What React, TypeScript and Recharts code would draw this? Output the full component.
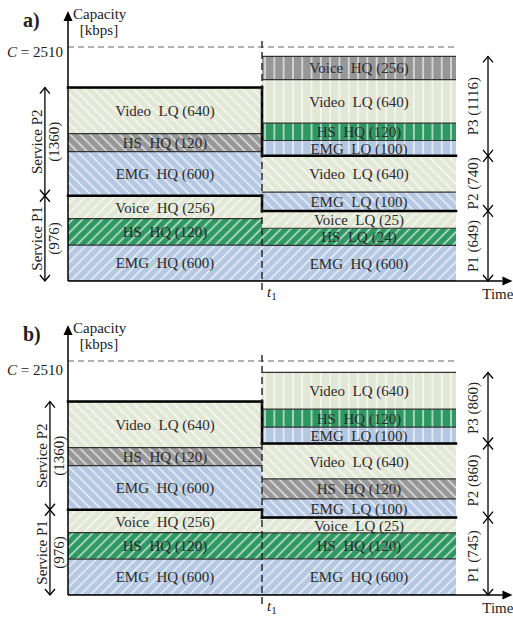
import React from 'react';
import { ComposedChart, Bar, XAxis, YAxis, ReferenceLine, LabelList } from 'recharts';

const SERIF = '"Liberation Serif", "Times New Roman", serif';

// blocks are listed bottom -> top; heights are the drawn heights on the capacity axis
const beforeNames = ['EMG  HQ', 'HS  HQ', 'Voice  HQ', 'EMG  HQ', 'HS  HQ', 'Video  LQ'];
const beforeKbps = [600, 120, 256, 600, 120, 640];
const beforeHeights = [385, 285, 244, 474, 193, 494];
const beforeColors = ['blue', 'green', 'light', 'blue', 'gray', 'light'];
const beforeGroups = [1, 1, 1, 2, 2, 2];

const afterANames = ['EMG  HQ', 'HS  LQ', 'Voice  LQ', 'EMG  LQ', 'Video  LQ', 'EMG  LQ', 'HS  HQ', 'Video  LQ', 'Voice  HQ'];
const afterAKbps = [600, 24, 25, 100, 640, 100, 120, 640, 256];
const afterAHeights = [383, 183, 186, 201, 390, 164, 187, 465, 250];
const afterAColors = ['blue', 'green', 'light', 'blue', 'light', 'blue', 'green', 'light', 'gray'];
const afterAGroups = [1, 1, 1, 2, 2, 3, 3, 3, 3];

const afterBNames = ['EMG  HQ', 'HS  HQ', 'Voice  LQ', 'EMG  LQ', 'HS  HQ', 'Video  LQ', 'EMG  LQ', 'HS  HQ', 'Video  LQ'];
const afterBKbps = [600, 120, 25, 100, 120, 640, 100, 120, 640];
const afterBHeights = [387, 279, 164, 201, 215, 379, 176, 193, 393];
const afterBColors = ['blue', 'green', 'light', 'blue', 'gray', 'light', 'blue', 'green', 'light'];
const afterBGroups = [1, 1, 1, 2, 2, 2, 3, 3, 3];

const periods = ['before', 'after'];
const periodMid = [0.5, 1.5];

const CAPACITY = 2510;
const SLOTS = 9;

const COLORS: Record<string, string> = {
  light: '#e3e7d6',
  gray: '#979797',
  green: '#2e9862',
  blue: '#b5c8e2',
};
// hatch direction by priority group
const HATCH: Record<number, { rot: number; size: number }> = {
  1: { rot: 45, size: 7 },
  2: { rot: -45, size: 7 },
  3: { rot: 0, size: 9.3 },
};

type Period = { names: string[]; kbps: number[]; heights: number[]; colors: string[]; groups: number[] };

function buildRow(k: number, p: Period) {
  const row: any = { period: periods[k], t: periodMid[k] };
  for (let i = 0; i < SLOTS; i++) {
    row['s' + i] = p.heights[i] ?? 0;
    row['l' + i] = p.names[i] ? `${p.names[i]} (${p.kbps[i]})` : '';
    row['c' + i] = p.colors[i];
    row['g' + i] = p.groups[i];
  }
  row.top = p.heights.length - 1;
  return row;
}

const levelOf = (p: Period, g: number) =>
  p.heights.reduce((s, h, i) => (p.groups[i] <= g ? s + h : s), 0);
const kbpsOf = (p: Period, g: number) =>
  p.kbps.reduce((s, k, i) => (p.groups[i] === g ? s + k : s), 0);

function blockShape(i: number, prefix: string) {
  return (props: any) => {
    const { x, y, width, height, payload } = props;
    if (!height) return null;
    const fill = `url(#${prefix}-${payload['c' + i]}-${payload['g' + i]})`;
    return (
      <g>
        <rect x={x} y={y} width={width} height={height} fill={fill} />
        <line x1={x} y1={y + height} x2={x + width} y2={y + height} stroke="#333" strokeWidth={1.2} />
        {payload.top === i && <line x1={x} y1={y} x2={x + width} y2={y} stroke="#333" strokeWidth={1.2} />}
      </g>
    );
  };
}

const blockLabel = (props: any) => {
  const vb = props.viewBox || props;
  const { x, y, width, height } = vb;
  if (!props.value || !height) return null;
  return (
    <text x={x + width / 2} y={y + height / 2} dy="0.36em" textAnchor="middle" fontFamily={SERIF}
      fontSize={15} fill="#2b2b2b" style={{ whiteSpace: 'pre' }}>
      {props.value}
    </text>
  );
};

function axisArrow(extra?: (tx: number, ty: number) => React.ReactNode) {
  return (props: any) => {
    const { x1, y1, x2, y2 } = props;
    const a = Math.atan2(y2 - y1, x2 - x1);
    const L = 10, W = 4.5;
    const bx = x2 - L * Math.cos(a), by = y2 - L * Math.sin(a);
    const pts = `${x2},${y2} ${bx - W * Math.sin(a)},${by + W * Math.cos(a)} ${bx + W * Math.sin(a)},${by - W * Math.cos(a)}`;
    return (
      <g>
        <line x1={x1} y1={y1} x2={bx} y2={by} stroke="#000" strokeWidth={1.5} />
        <polygon points={pts} fill="#000" />
        {extra && extra(x2, y2)}
      </g>
    );
  };
}

function bracket(lines: string[], offsets: number[]) {
  return (props: any) => {
    const { x1, y1, y2 } = props;
    const top = Math.min(y1, y2), bot = Math.max(y1, y2), x = x1, mid = (top + bot) / 2;
    return (
      <g>
        <line x1={x} y1={top} x2={x} y2={bot} stroke="#000" strokeWidth={1.3} />
        <polyline points={`${x - 5},${top + 6} ${x},${top} ${x + 5},${top + 6}`} fill="none" stroke="#000" strokeWidth={1.3} />
        <polyline points={`${x - 5},${bot - 6} ${x},${bot} ${x + 5},${bot - 6}`} fill="none" stroke="#000" strokeWidth={1.3} />
        {lines.map((t, k) => (
          <text key={k} x={x + offsets[k]} y={mid} transform={`rotate(-90 ${x + offsets[k]} ${mid})`}
            textAnchor="middle" dominantBaseline="central" fontFamily={SERIF} fontSize={15} fill="#222">
            {t}
          </text>
        ))}
      </g>
    );
  };
}

function Panel({ tag, before, after, leftX, capDy }: { tag: string; before: Period; after: Period; leftX: number; capDy: number }) {
  const prefix = 'p' + tag;
  const rows = [buildRow(0, before), buildRow(1, after)];
  const b1 = levelOf(before, 1), b2 = levelOf(before, 2);
  const a1 = levelOf(after, 1), a2 = levelOf(after, 2), a3 = levelOf(after, 3);
  const step = (lb: number, la: number) => [
    [{ x: 0, y: lb }, { x: 1, y: lb }],
    [{ x: 1, y: lb }, { x: 1, y: la }],
    [{ x: 1, y: la }, { x: 2, y: la }],
  ];
  const rightBr = [
    { from: 0, to: a1, g: 1 },
    { from: a1, to: a2, g: 2 },
    { from: a2, to: a3, g: 3 },
  ];
  const leftBr = [
    { from: 0, to: b1, g: 1 },
    { from: b1, to: b2, g: 2 },
  ];
  const common = { xAxisId: 'num', yAxisId: 'y', ifOverflow: 'visible' as const };

  return (
    <ComposedChart width={513} height={305} data={rows} margin={{ top: 47, right: 57, bottom: 24, left: 68 }}
      barCategoryGap={0} barGap={0}>
      <defs>
        {Object.keys(COLORS).map((c) =>
          [1, 2, 3].map((g) => {
            const h = HATCH[g];
            return (
              <pattern key={c + g} id={`${prefix}-${c}-${g}`} patternUnits="userSpaceOnUse" width={h.size}
                height={h.size} patternTransform={`rotate(${h.rot})`}>
                <rect width={h.size} height={h.size} fill={COLORS[c]} />
                <line x1={h.size / 2} y1={0} x2={h.size / 2} y2={h.size} stroke="#fff" strokeWidth={1.5} strokeOpacity={0.75} />
              </pattern>
            );
          })
        )}
      </defs>
      <XAxis xAxisId="cat" dataKey="period" type="category" hide />
      <XAxis xAxisId="num" dataKey="t" type="number" domain={[0, 2]} allowDataOverflow hide />
      <YAxis yAxisId="y" type="number" domain={[0, CAPACITY]} allowDataOverflow hide />
      {Array.from({ length: SLOTS }, (_, i) => (
        <Bar key={i} dataKey={'s' + i} stackId="st" xAxisId="cat" yAxisId="y" isAnimationActive={false}
          shape={blockShape(i, prefix)}>
          <LabelList dataKey={'l' + i} content={blockLabel} />
        </Bar>
      ))}
      {/* capacity limit */}
      <ReferenceLine {...common} segment={[{ x: 0, y: CAPACITY }, { x: 2, y: CAPACITY }]}
        shape={(p: any) => (
          <g>
            <line x1={p.x1} y1={p.y1} x2={p.x2} y2={p.y2} stroke="#666" strokeWidth={1.2} strokeDasharray="6 4" />
            <text x={p.x1 - 5} y={p.y1 + capDy} textAnchor="end" fontFamily={SERIF} fontSize={15} fill="#222">
              <tspan fontStyle="italic">C</tspan> = 2510
            </text>
          </g>
        )} />
      {/* group boundary steps */}
      {[...step(b1, a1), ...step(b2, a2)].map((seg, k) => (
        <ReferenceLine key={'st' + k} {...common} segment={seg} stroke="#000" strokeWidth={2.5} strokeLinecap="square" />
      ))}
      {/* t1 marker */}
      <ReferenceLine {...common} segment={[{ x: 1, y: -96 }, { x: 1, y: 2606 }]}
        shape={(p: any) => {
          const bot = Math.max(p.y1, p.y2);
          return (
            <g>
              <line x1={p.x1} y1={p.y1} x2={p.x2} y2={p.y2} stroke="#222" strokeWidth={1.4} strokeDasharray="7 4" />
              <text x={p.x1 + 5} y={bot + 7} fontFamily={SERIF} fontSize={15} fill="#222">
                <tspan fontStyle="italic">t</tspan>
                <tspan fontSize={11} dy={3}>1</tspan>
              </text>
            </g>
          );
        }} />
      {/* axes */}
      <ReferenceLine {...common} segment={[{ x: 0, y: 0 }, { x: 2.291, y: 0 }]}
        shape={axisArrow((tx, ty) => (
          <text x={tx + 1} y={ty + 17.5} textAnchor="end" fontFamily={SERIF} fontSize={15} fill="#222">Time</text>
        ))} />
      <ReferenceLine {...common} segment={[{ x: 0, y: 0 }, { x: 0, y: 2896 }]}
        shape={axisArrow((tx, ty) => (
          <g fontFamily={SERIF} fill="#222">
            <text x={tx - 45} y={ty + 16} fontSize={20} fontWeight="bold">{tag + ')'}</text>
            <text x={tx + 5} y={ty + 7.5} fontSize={15}>Capacity</text>
            <text x={tx + 31} y={ty + 23.5} fontSize={15} textAnchor="middle">[kbps]</text>
          </g>
        ))} />
      {/* priority brackets */}
      {rightBr.map((br) => (
        <ReferenceLine key={'r' + br.g} {...common} segment={[{ x: 2.165, y: br.from }, { x: 2.165, y: br.to }]}
          shape={bracket([`P${br.g} (${kbpsOf(after, br.g)})`], [-15])} />
      ))}
      {leftBr.map((br) => (
        <ReferenceLine key={'l' + br.g} {...common} segment={[{ x: leftX, y: br.from }, { x: leftX, y: br.to }]}
          shape={bracket([`Service P${br.g}`, `(${kbpsOf(before, br.g)})`], [-8, 9])} />
      ))}
    </ComposedChart>
  );
}

const before: Period = { names: beforeNames, kbps: beforeKbps, heights: beforeHeights, colors: beforeColors, groups: beforeGroups };
const afterA: Period = { names: afterANames, kbps: afterAKbps, heights: afterAHeights, colors: afterAColors, groups: afterAGroups };
const afterB: Period = { names: afterBNames, kbps: afterBKbps, heights: afterBHeights, colors: afterBColors, groups: afterBGroups };

export default function App() {
  return (
    <div style={{ position: 'absolute', left: 0, top: 0, width: 513, height: 619, background: '#fff' }}>
      <div style={{ position: 'absolute', left: 0, top: 0 }}>
        <Panel tag="a" before={before} after={afterA} leftX={-0.119} capDy={9.5} />
      </div>
      <div style={{ position: 'absolute', left: 0, top: 314 }}>
        <Panel tag="b" before={before} after={afterB} leftX={-0.093} capDy={14} />
      </div>
    </div>
  );
}
